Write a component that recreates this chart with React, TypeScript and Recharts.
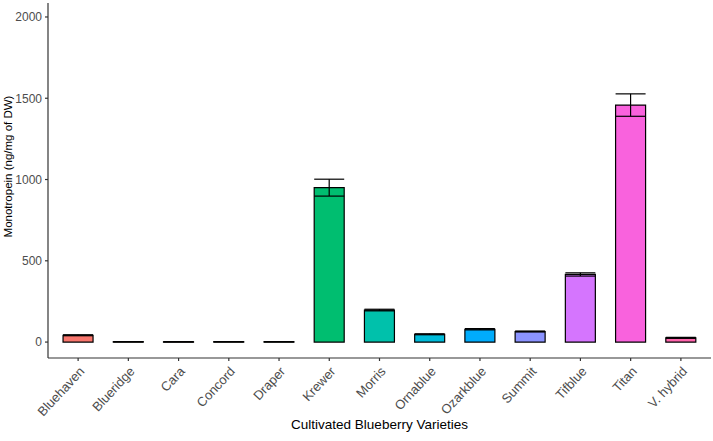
import { BarChart, Bar, XAxis, YAxis, Cell, ErrorBar, Label } from 'recharts'

const varieties = [
  'Bluehaven', 'Blueridge', 'Cara', 'Concord', 'Draper', 'Krewer', 'Morris',
  'Ornablue', 'Ozarkblue', 'Summit', 'Tifblue', 'Titan', 'V. hybrid',
]
const meanValues = [42, 2, 2, 2, 2, 950, 197, 48, 79, 65, 416, 1458, 26]
const errValues = [3, 1, 1, 1, 1, 52, 5, 3, 4, 3, 10, 69, 3]
const yTicks = [0, 500, 1000, 1500, 2000]

// ggplot2 default hue palette for 13 levels
const hueColors = [
  '#F8766D', '#E18A00', '#BE9C00', '#8CAB00', '#24B700', '#00BE70', '#00C1AB',
  '#00BBDA', '#00ACFC', '#8B93FF', '#D575FE', '#F962DD', '#FF65AC',
]

const data = varieties.map((name, i) => ({ name, value: meanValues[i], err: errValues[i] }))

const font = 'Liberation Sans, Arial, sans-serif'

function AngledTick({ x, y, payload }: any) {
  return (
    <g transform={`translate(${x + 7},${y + 9})`}>
      <text
        transform="rotate(-47)"
        textAnchor="end"
        fontSize={13}
        fill="#4D4D4D"
        fontFamily={font}
      >
        {payload.value}
      </text>
    </g>
  )
}

function YTitle({ viewBox }: any) {
  const cy = viewBox.y + viewBox.height / 2 - 14
  return (
    <text
      x={12}
      y={cy}
      transform={`rotate(-90, 12, ${cy})`}
      textAnchor="middle"
      fontSize={11.5}
      fill="#000"
      fontFamily={font}
    >
      Monotropein (ng/mg of DW)
    </text>
  )
}

export default function App() {
  return (
    <div style={{ position: 'absolute', left: 0, top: 0, background: '#fff' }}>
      <BarChart
        width={713}
        height={441}
        data={data}
        margin={{ top: 3, right: 2, left: 0, bottom: 0 }}
        barCategoryGap="20%"
      >
        <XAxis
          dataKey="name"
          height={83}
          interval={0}
          padding={{ left: 5, right: 5 }}
          stroke="#333"
          strokeWidth={1.2}
          tickLine={{ stroke: '#333' }}
          tickSize={3}
          tick={<AngledTick />}
        >
          <Label
            value="Cultivated Blueberry Varieties"
            position="insideBottom"
            offset={12}
            style={{ fontSize: 13.5, fill: '#000', fontFamily: font }}
          />
        </XAxis>
        <YAxis
          width={48}
          domain={[-98, 2086]}
          ticks={yTicks}
          allowDataOverflow
          stroke="#333"
          strokeWidth={1.2}
          tickSize={3}
          tickMargin={3}
          tick={{ fontSize: 12, fill: '#4D4D4D', fontFamily: font }}
        >
          <Label content={<YTitle />} />
        </YAxis>
        <Bar dataKey="value" stroke="#000" strokeWidth={1.2} isAnimationActive={false}>
          {data.map((d, i) => (
            <Cell key={d.name} fill={hueColors[i]} />
          ))}
          <ErrorBar dataKey="err" width={15} stroke="#000" strokeWidth={1.2} />
        </Bar>
      </BarChart>
    </div>
  )
}
